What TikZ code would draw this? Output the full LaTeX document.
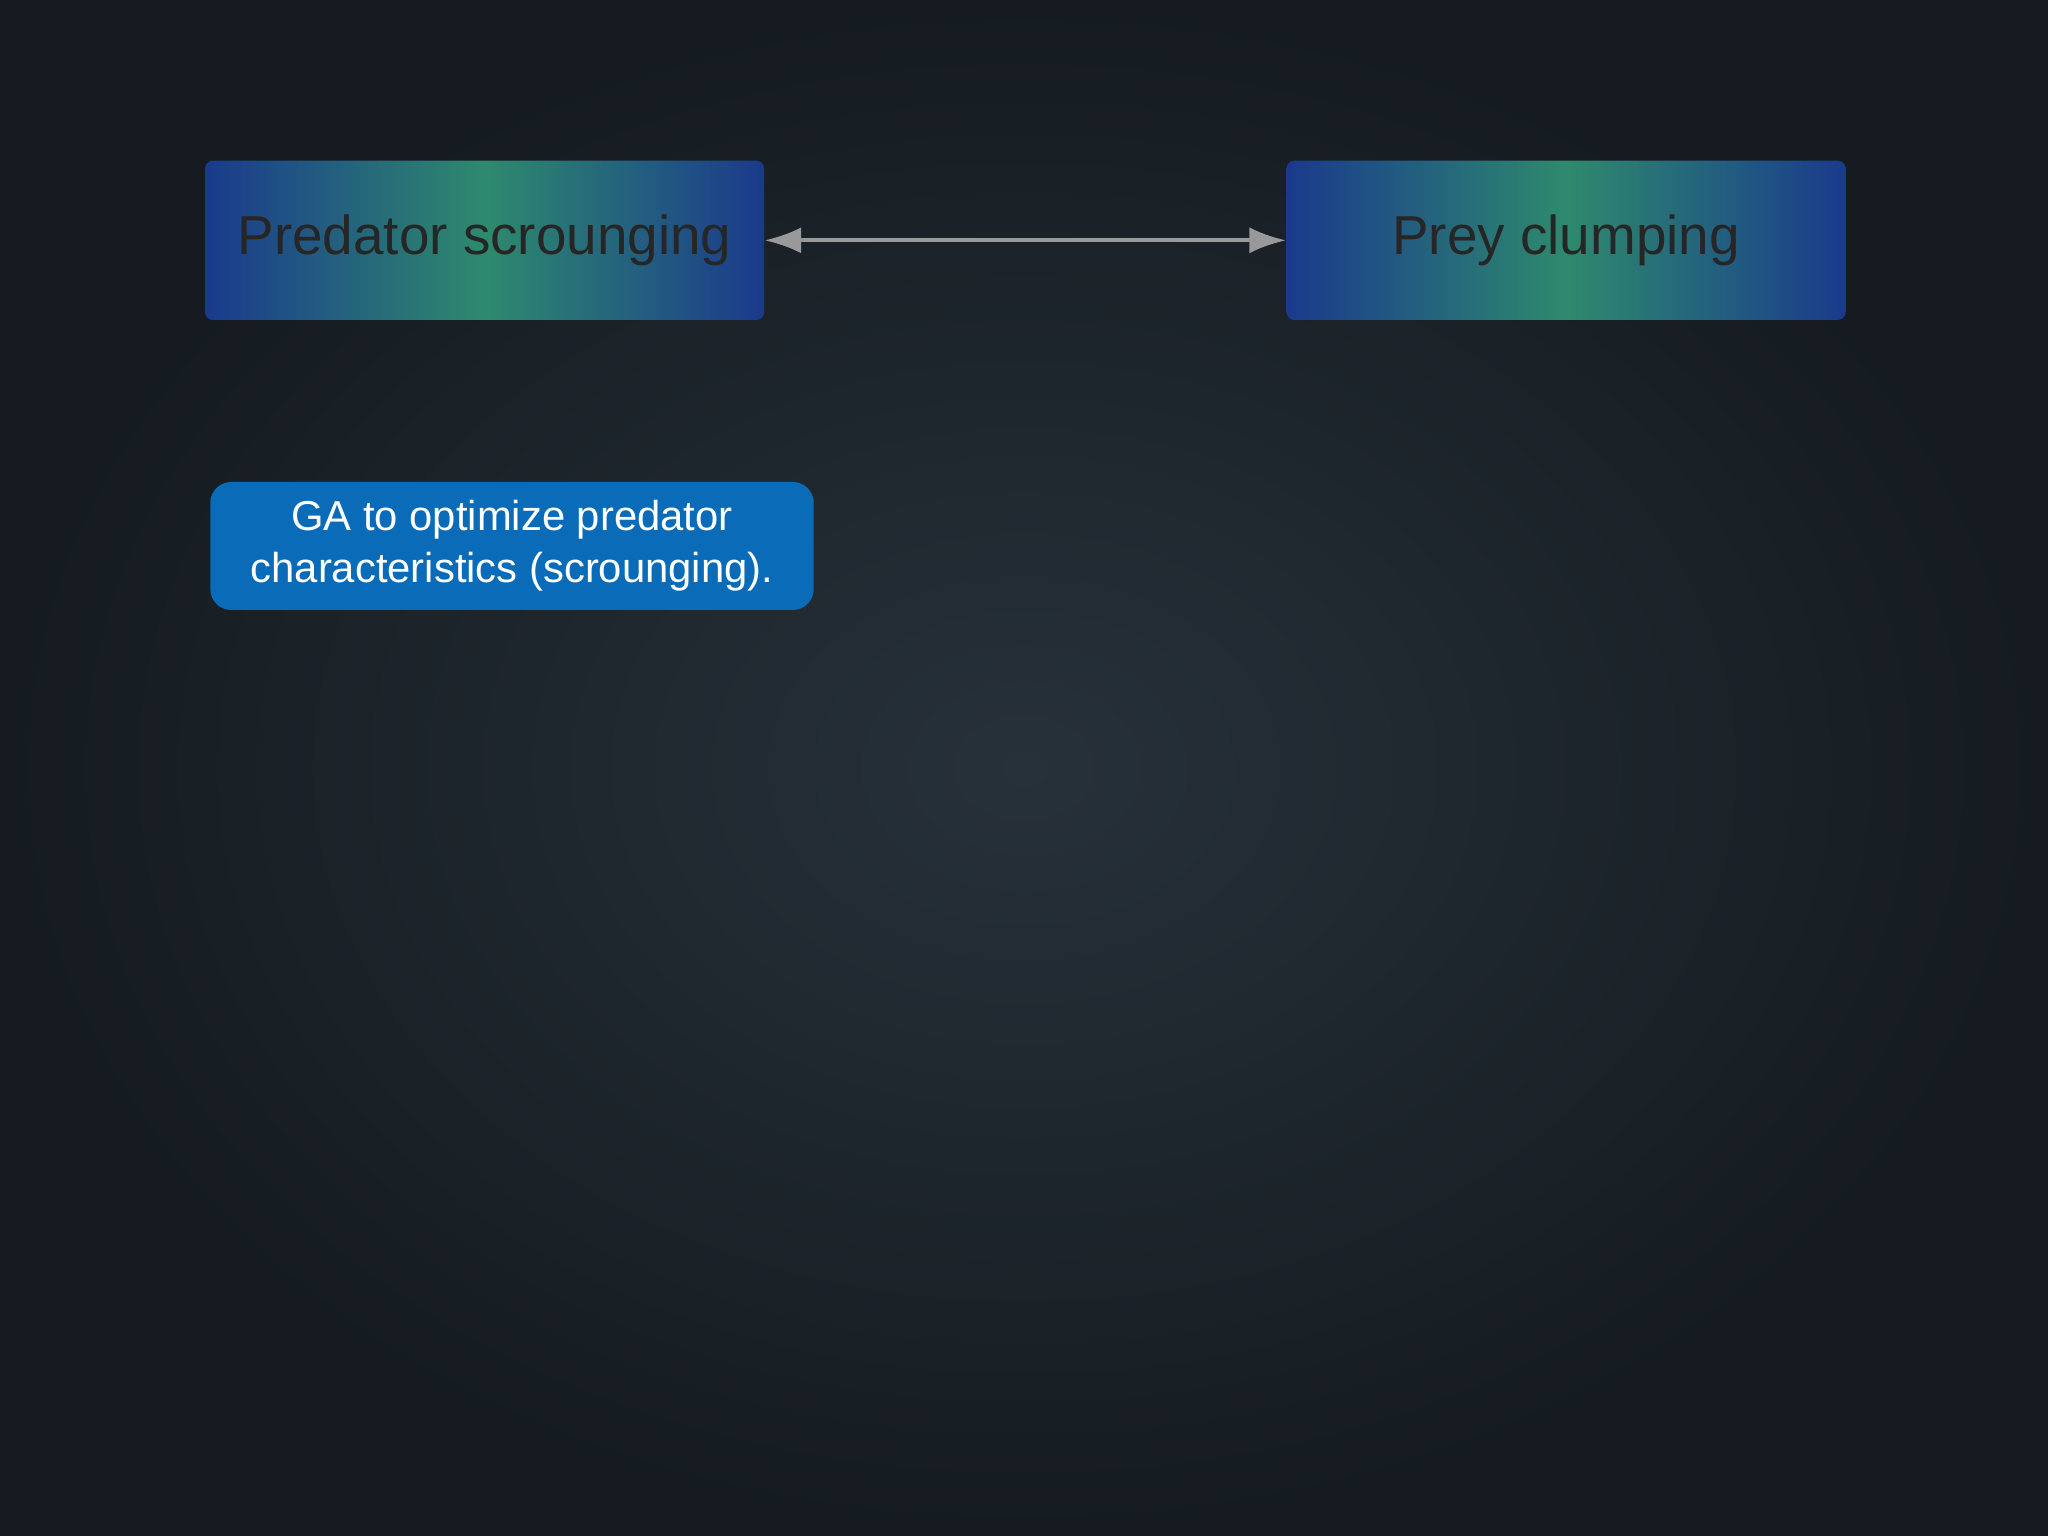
\documentclass[tikz,border=0pt]{standalone}
\usepackage{fontspec}
\setmainfont{Liberation Sans}
\usetikzlibrary{arrows.meta}
\definecolor{bgc}{HTML}{27313A}
\definecolor{bgd}{HTML}{151B20}
\definecolor{bx}{HTML}{1A3A8C}
\definecolor{gr}{HTML}{2E8A6E}
\definecolor{ga}{HTML}{0A6CB8}
\tikzset{
 bigbox/.style={draw=none,minimum width=214pt,minimum height=61pt,left color=bx,right color=bx,middle color=gr,rounded corners=3pt,font=\fontsize{21}{24}\selectfont,text=black!85},
 gabox/.style={fill=ga,rounded corners=8pt,minimum width=231pt,minimum height=49pt,text=white,align=center,font=\fontsize{16}{20}\selectfont},
 link/.style={draw=gray!80,line width=1.5pt,{Latex[length=14pt,width=10pt]}-{Latex[length=14pt,width=10pt]}}
}
\begin{document}
\begin{tikzpicture}[x=0.5pt,y=-0.5pt]
\useasboundingbox (0,0) rectangle (1568,1176);
\shade[inner color=bgc,outer color=bgd] (0,0) rectangle (1568,1176);
\node[bigbox] (pred) at (371,184) {\raisebox{-2pt}{Predator scrounging}};
\node[bigbox] (prey) at (1199,184) {\raisebox{-2pt}{Prey clumping}};
\node[gabox] (ga) at (392,418) {GA to optimize predator\\characteristics (scrounging).};
\draw[link] (pred.east) -- (prey.west);
\end{tikzpicture}
\end{document}
